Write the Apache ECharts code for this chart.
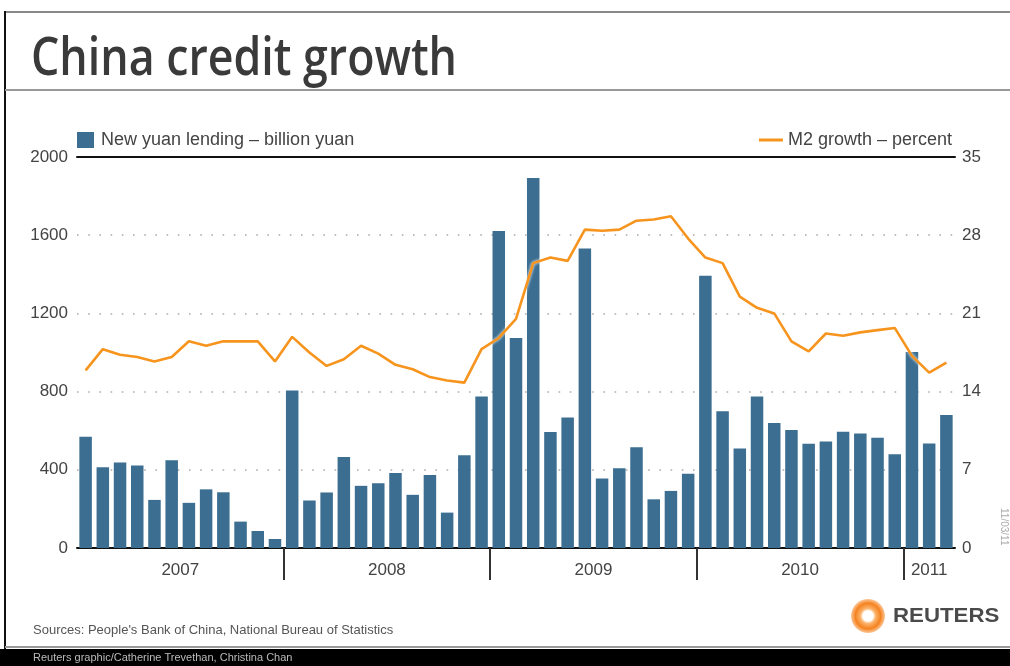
<!DOCTYPE html>
<html>
<head>
<meta charset="utf-8">
<script src="https://cdn.jsdelivr.net/npm/echarts@6/dist/echarts.min.js"></script>
<style>
  html, body { margin: 0; padding: 0; background: #fff; }
  #chart { width: 1010px; height: 666px; }
</style>
</head>
<body>
<div id="chart"></div>
<script>
// months per year shown on the x axis (Jan 2007 - Mar 2011)
var years = ['2007', '2008', '2009', '2010', '2011'];
var monthsPerYear = [12, 12, 12, 12, 3];

// new yuan lending, billion yuan
var lending = [
  569, 413, 437, 422, 246, 449, 231, 300, 285, 135, 87, 46,
  805, 243, 284, 465, 318, 331, 383, 272, 374, 181, 475, 775,
  1621, 1074, 1893, 593, 667, 1532, 355, 408, 515, 249, 292, 380,
  1393, 699, 509, 775, 639, 603, 533, 545, 595, 586, 564, 480,
  1003, 535, 680
];

// M2 growth, percent
var m2 = [
  15.9, 17.8, 17.3, 17.1, 16.7, 17.1, 18.5, 18.1, 18.5, 18.5, 18.5, 16.7,
  18.9, 17.5, 16.3, 16.9, 18.1, 17.4, 16.4, 16.0, 15.3, 15.0, 14.8, 17.8,
  18.8, 20.5, 25.5, 26.0, 25.7, 28.5, 28.4, 28.5, 29.3, 29.4, 29.7, 27.7,
  26.0, 25.5, 22.5, 21.5, 21.0, 18.5, 17.6, 19.2, 19.0, 19.3, 19.5, 19.7,
  17.2, 15.7, 16.6
];

var months = [];
var yearBounds = [];   // month index where a new year starts
var yearMids = [];     // centre of each year's block, in month units
years.forEach(function (y, i) {
  if (i > 0) yearBounds.push(months.length);
  yearMids.push(months.length + monthsPerYear[i] / 2);
  for (var m = 1; m <= monthsPerYear[i]; m++) {
    months.push(y + '-' + (m < 10 ? '0' + m : m));
  }
});

var chart = echarts.init(document.getElementById('chart'));
var gray = '#444';
var font = 'Liberation Sans, Arial, sans-serif';
var plain = function (v) { return String(v); };

chart.setOption({
  animation: false,
  grid: { left: 77, right: 55, top: 157, bottom: 118 },
  legend: [
    {
      data: ['New yuan lending – billion yuan'],
      left: 77, top: 131, padding: 0,
      icon: 'rect', itemWidth: 17, itemHeight: 16, itemGap: 8,
      textStyle: { color: gray, fontSize: 18, fontFamily: font, padding: [0, 0, 0, 2] }
    },
    {
      data: ['M2 growth – percent'],
      right: 58, top: 131, padding: 0,
      icon: 'rect', itemWidth: 24, itemHeight: 3,
      textStyle: { color: gray, fontSize: 18, fontFamily: font }
    }
  ],
  xAxis: [
    {
      type: 'category',
      data: months,
      axisLine: { onZero: false, lineStyle: { color: '#111', width: 2 } },
      axisTick: { show: false },
      axisLabel: { show: false }
    },
    {
      type: 'category',
      data: months,
      position: 'top',
      axisLine: { onZero: false, lineStyle: { color: '#111', width: 2 } },
      axisTick: { show: false },
      axisLabel: { show: false }
    },
    {
      // year separators and year labels
      type: 'value',
      min: 0, max: months.length,
      position: 'bottom',
      axisLine: { show: false, onZero: false },
      splitLine: { show: false },
      axisTick: {
        customValues: yearBounds,
        length: 32,
        lineStyle: { color: '#333', width: 2 }
      },
      axisLabel: {
        customValues: yearMids,
        margin: 14,
        color: gray, fontSize: 17, fontFamily: font,
        formatter: function (v) { return years[yearMids.indexOf(v)] || ''; }
      }
    }
  ],
  yAxis: [
    {
      type: 'value', min: 0, max: 2000, interval: 400,
      axisLine: { show: false }, axisTick: { show: false },
      axisLabel: { color: gray, fontSize: 17, fontFamily: font, margin: 9, formatter: plain },
      splitLine: { lineStyle: { color: '#aaa', width: 1.6, type: [1.6, 9.6] } }
    },
    {
      type: 'value', min: 0, max: 35, interval: 7,
      axisLine: { show: false }, axisTick: { show: false },
      axisLabel: { color: gray, fontSize: 17, fontFamily: font, margin: 7, formatter: plain },
      splitLine: { show: false }
    }
  ],
  series: [
    {
      name: 'New yuan lending – billion yuan',
      type: 'bar',
      data: lending,
      barWidth: 12.5,
      itemStyle: { color: '#3c6e91' }
    },
    {
      name: 'M2 growth – percent',
      type: 'line',
      yAxisIndex: 1,
      data: m2,
      symbol: 'none',
      itemStyle: { color: '#f7941d' },
      lineStyle: { color: '#f7941d', width: 2.6, shadowColor: '#fff', shadowBlur: 3 },
      z: 5
    }
  ],
  graphic: [
    { type: 'line', shape: { x1: 5, y1: 12, x2: 1010, y2: 12 }, style: { stroke: '#888', lineWidth: 2 } },
    { type: 'line', shape: { x1: 5, y1: 11, x2: 5, y2: 650 }, style: { stroke: '#111', lineWidth: 2 } },
    { type: 'line', shape: { x1: 5, y1: 90, x2: 1010, y2: 90 }, style: { stroke: '#999', lineWidth: 2 } },
    { type: 'line', shape: { x1: 5, y1: 647, x2: 1010, y2: 647 }, style: { stroke: '#999', lineWidth: 2 } },
    { type: 'rect', shape: { x: 0, y: 649, width: 1010, height: 17 }, style: { fill: '#000' } },
    {
      type: 'text', left: 31, top: 34, scaleX: 0.86,
      style: { text: 'China credit growth', fill: '#3a3a3a', fontSize: 52, fontWeight: 600, fontFamily: 'Open Sans, sans-serif' }
    },
    {
      type: 'text', left: 33, top: 624,
      style: { text: "Sources: People's Bank of China, National Bureau of Statistics", fill: '#555', fontSize: 13, fontFamily: font }
    },
    {
      type: 'text', left: 33, top: 652,
      style: { text: 'Reuters graphic/Catherine Trevethan, Christina Chan', fill: '#bbb', fontSize: 11, fontFamily: font }
    },
    {
      type: 'text', left: 999, top: 508, rotation: -Math.PI / 2,
      style: { text: '11/03/11', fill: '#aaa', fontSize: 10, fontFamily: font }
    },
    {
      type: 'circle', shape: { cx: 868, cy: 616, r: 17 },
      style: {
        fill: {
          type: 'radial', x: 0.5, y: 0.5, r: 0.5,
          colorStops: [
            { offset: 0, color: '#fff' }, { offset: 0.3, color: '#fff' },
            { offset: 0.45, color: '#fbb36a' }, { offset: 0.75, color: '#f58220' },
            { offset: 1, color: '#fcc89a' }
          ]
        }
      }
    },
    {
      type: 'text', left: 893, top: 606, scaleX: 1.06,
      style: { text: 'REUTERS', fill: '#4a4a4a', fontSize: 21, fontWeight: 'bold', fontFamily: font }
    }
  ]
});
</script>
</body>
</html>
